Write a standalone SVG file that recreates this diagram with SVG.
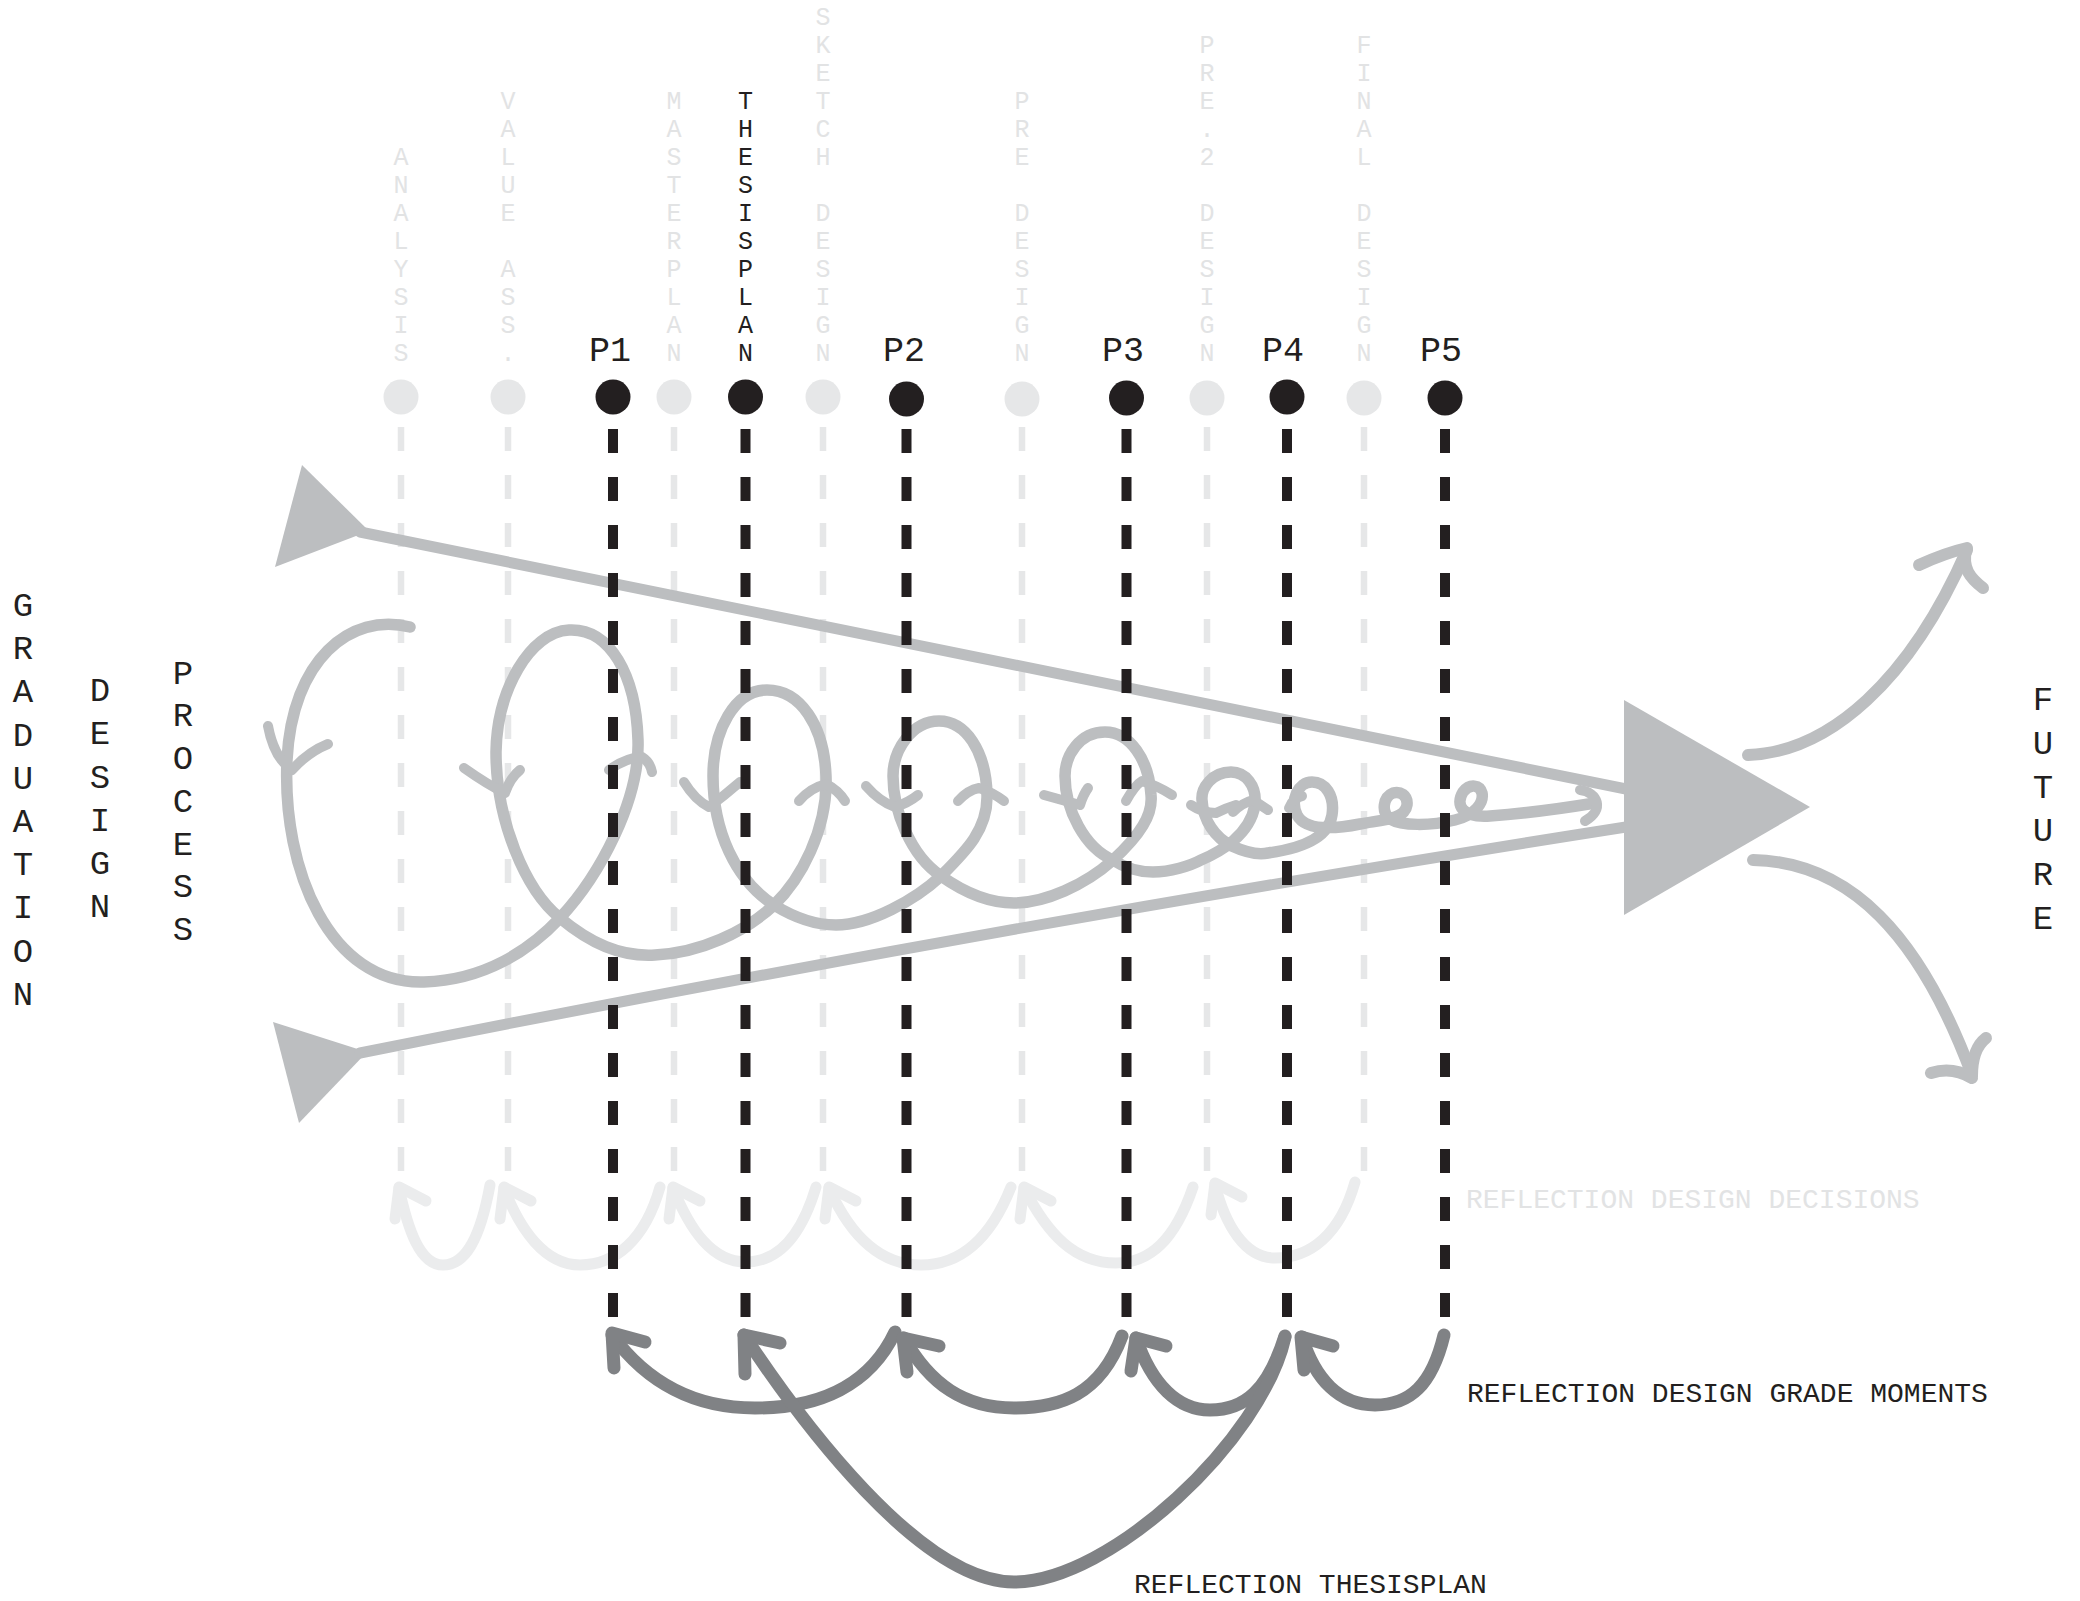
<svg xmlns="http://www.w3.org/2000/svg" width="2080" height="1601" viewBox="0 0 2080 1601">
<style>
.t{font-family:'Liberation Mono','DejaVu Sans Mono',monospace;text-anchor:middle}
.col{font-size:25px}
.lt{fill:#e2e3e4}
.bk{fill:#231f20}
.pl{font-size:35px;fill:#231f20}
.big{font-size:34px;fill:#231f20}
.lab{font-family:'Liberation Mono','DejaVu Sans Mono',monospace;font-size:28px}
.ldash{stroke:#e6e7e8;stroke-width:6.5;stroke-dasharray:24 24;fill:none}
.bdash{stroke:#231f20;stroke-width:10;stroke-dasharray:24 24;fill:none}
.gr{stroke:#bcbec0;fill:none;stroke-linecap:round;stroke-linejoin:round}
.larc{stroke:#ebeced;stroke-width:11;fill:none;stroke-linecap:round;stroke-linejoin:round}
.darc{stroke:#808285;stroke-width:13;fill:none;stroke-linecap:round;stroke-linejoin:round}
.ldot{fill:#e6e7e8}
.bdot{fill:#231f20}
</style>
<rect width="2080" height="1601" fill="#ffffff"/>

<g id="connectors">
  <g id="light-guides">
    <line class="ldash" x1="401" y1="427" x2="401" y2="1172"/>
    <line class="ldash" x1="508" y1="427" x2="508" y2="1172"/>
    <line class="ldash" x1="674" y1="427" x2="674" y2="1172"/>
    <line class="ldash" x1="823" y1="427" x2="823" y2="1172"/>
    <line class="ldash" x1="1022" y1="427" x2="1022" y2="1172"/>
    <line class="ldash" x1="1207" y1="427" x2="1207" y2="1172"/>
    <line class="ldash" x1="1364" y1="427" x2="1364" y2="1172"/>
  </g>
  <g id="reflection-design-decisions">
    <path class="larc" d="M490,1185 C480,1240 465,1265 443,1265 C420,1265 408,1230 399,1188"/>
    <path class="larc" d="M395,1219 L399,1187 L426,1201"/>
    <path class="larc" d="M660,1187 C645,1240 615,1265 580,1265 C545,1265 520,1230 504,1188"/>
    <path class="larc" d="M500,1219 L504,1187 L531,1201"/>
    <path class="larc" d="M816,1187 C800,1240 775,1262 746,1262 C712,1262 690,1230 673,1188"/>
    <path class="larc" d="M669,1219 L673,1187 L700,1201"/>
    <path class="larc" d="M1011,1187 C990,1240 960,1265 921,1265 C880,1265 850,1235 829,1188"/>
    <path class="larc" d="M825,1219 L829,1187 L856,1201"/>
    <path class="larc" d="M1193,1187 C1175,1240 1150,1263 1116,1263 C1075,1263 1048,1235 1024,1188"/>
    <path class="larc" d="M1020,1219 L1024,1187 L1051,1201"/>
    <path class="larc" d="M1355,1182 C1340,1235 1310,1258 1275,1258 C1245,1258 1225,1225 1215,1184"/>
    <path class="larc" d="M1211,1215 L1215,1183 L1242,1197"/>
  </g>
  <g id="process-funnel">
    <polygon points="302,465 369,531 275,567" fill="#bcbec0"/>
    <line class="gr" x1="360" y1="532" x2="1626" y2="789" stroke-width="11"/>
    <polygon points="273,1022 367,1052 299,1123" fill="#bcbec0"/>
    <path class="gr" stroke-width="11" d="M360,1053 Q1000,925 1626,827"/>
    <polygon points="1624,700 1624,915 1810,807" fill="#bcbec0"/>
  </g>
  <g id="spiral">
    <path class="gr" stroke-width="11.5" d="M410,627 C350,612 292,660 287,760 C282,870 330,985 424,982 C485,980 530,950 560,918 C600,875 640,800 638,740 C636,675 610,628 569,630 C530,632 497,690 496,752 C496,820 525,890 560,918 C590,943 620,957 655,955 C700,953 745,932 774,905 C800,880 828,830 826,776 C824,725 800,690 767,690 C735,690 713,730 713,776 C713,830 735,880 774,905 C795,918 815,925 836,925 C870,925 915,900 941,876 C965,852 988,830 987,795 C986,750 965,721 939,721 C912,721 893,750 893,776 C893,810 910,855 941,876 C965,893 990,903 1014,903 C1045,903 1085,885 1113,860 C1140,835 1153,815 1151,795 C1149,760 1130,732 1105,732 C1080,732 1065,755 1065,776 C1065,810 1085,848 1113,860 C1125,868 1140,872 1153,872 C1170,872 1190,866 1201,860 C1220,852 1250,835 1255,805 C1257,785 1245,772 1231,772 C1212,772 1201,788 1202,800 C1203,820 1215,838 1232,846 C1245,852 1258,855 1268,853 C1290,850 1328,842 1332,815 C1335,795 1325,782 1312,782 C1298,782 1290,800 1297,815 C1305,830 1330,830 1360,824 C1380,820 1405,820 1407,805 C1408,795 1400,791 1393,793 C1383,797 1381,812 1390,819 C1402,826 1430,826 1455,820 C1475,815 1484,803 1482,793 C1480,785 1470,783 1463,792 C1455,805 1462,818 1490,816 C1530,813 1565,808 1595,803"/>
    <path class="gr" stroke-width="10" d="M1580,790 C1598,792 1605,810 1585,821"/>
    <g stroke-width="10" class="gr">
      <path d="M268,726 Q274,758 292,770 Q308,752 328,744"/>
      <path d="M464,768 Q488,785 505,793 Q510,778 520,770"/>
      <path d="M609,770 Q625,758 642,757 Q650,762 652,772"/>
      <path d="M684,782 Q695,800 709,807 Q725,795 740,782"/>
      <path d="M799,801 Q810,788 826,784 Q838,790 845,801"/>
      <path d="M866,786 Q880,802 895,807 Q908,803 918,795"/>
      <path d="M958,801 Q968,790 979,788 Q992,792 1004,801"/>
      <path d="M1044,795 Q1062,800 1080,805 Q1083,795 1088,788"/>
      <path d="M1126,801 Q1135,785 1142,781 Q1158,786 1172,795"/>
      <path d="M1191,805 Q1203,813 1216,813 Q1226,808 1236,805"/>
      <path d="M1233,812 Q1242,803 1253,800 Q1262,806 1268,810"/>
      <path d="M1289,808 Q1293,798 1302,796"/>
    </g>
  </g>
  <g id="future-arrows">
    <path class="gr" stroke-width="12" d="M1748,755 C1830,752 1910,680 1967,550"/>
    <path class="gr" stroke-width="12" d="M1919,565 Q1945,553 1967,548 M1966,550 C1962,568 1970,578 1983,588"/>
    <path class="gr" stroke-width="12" d="M1753,860 C1850,862 1920,935 1972,1075"/>
    <path class="gr" stroke-width="12" d="M1931,1073 Q1952,1066 1972,1078 M1972,1076 C1972,1058 1977,1045 1986,1038"/>
  </g>
  <g id="milestone-guides">
    <line class="bdash" x1="613" y1="429" x2="613" y2="1318"/>
    <line class="bdash" x1="745.5" y1="429" x2="745.5" y2="1318"/>
    <line class="bdash" x1="906.5" y1="429" x2="906.5" y2="1318"/>
    <line class="bdash" x1="1126.5" y1="429" x2="1126.5" y2="1318"/>
    <line class="bdash" x1="1287" y1="429" x2="1287" y2="1318"/>
    <line class="bdash" x1="1445" y1="429" x2="1445" y2="1318"/>
  </g>
  <g id="reflection-grade-moments">
    <path class="darc" d="M895,1332 C870,1385 820,1408 755,1408 C690,1408 645,1380 612,1335"/>
    <path class="darc" d="M614,1368 L612,1333 L645,1342"/>
    <path class="darc" d="M1122,1336 C1100,1395 1060,1408 1014,1408 C965,1408 930,1385 904,1338"/>
    <path class="darc" d="M907,1372 L903,1338 L939,1346"/>
    <path class="darc" d="M1285,1336 C1268,1390 1245,1410 1210,1410 C1178,1410 1152,1385 1136,1338"/>
    <path class="darc" d="M1131,1371 L1136,1338 L1166,1346"/>
    <path class="darc" d="M1444,1335 C1432,1385 1410,1405 1375,1405 C1340,1405 1315,1380 1302,1337"/>
    <path class="darc" d="M1304,1370 L1301,1337 L1333,1346"/>
  </g>
  <g id="reflection-thesisplan">
    <path class="darc" d="M1285,1337 C1262,1440 1110,1582 1014,1582 C920,1582 800,1420 744,1335"/>
    <path class="darc" d="M745,1374 L744,1335 L780,1343"/>
  </g>
</g>

<g id="col-analysis">
  <circle class="ldot" cx="401" cy="397" r="17.5"/>
  <text class="t col lt"><tspan x="401" y="165">A</tspan><tspan x="401" y="193">N</tspan><tspan x="401" y="221">A</tspan><tspan x="401" y="249">L</tspan><tspan x="401" y="277">Y</tspan><tspan x="401" y="305">S</tspan><tspan x="401" y="333">I</tspan><tspan x="401" y="361">S</tspan></text>
</g>
<g id="col-value">
  <circle class="ldot" cx="508" cy="397" r="17.5"/>
  <text class="t col lt"><tspan x="508" y="109">V</tspan><tspan x="508" y="137">A</tspan><tspan x="508" y="165">L</tspan><tspan x="508" y="193">U</tspan><tspan x="508" y="221">E</tspan><tspan x="508" y="277">A</tspan><tspan x="508" y="305">S</tspan><tspan x="508" y="333">S</tspan><tspan x="508" y="361">.</tspan></text>
</g>
<g id="p1">
  <circle class="bdot" cx="613" cy="397" r="17.5"/>
  <text class="t pl" x="610" y="361">P1</text>
</g>
<g id="col-masterplan">
  <circle class="ldot" cx="674" cy="397" r="17.5"/>
  <text class="t col lt"><tspan x="674" y="109">M</tspan><tspan x="674" y="137">A</tspan><tspan x="674" y="165">S</tspan><tspan x="674" y="193">T</tspan><tspan x="674" y="221">E</tspan><tspan x="674" y="249">R</tspan><tspan x="674" y="277">P</tspan><tspan x="674" y="305">L</tspan><tspan x="674" y="333">A</tspan><tspan x="674" y="361">N</tspan></text>
</g>
<g id="col-thesisplan">
  <circle class="bdot" cx="745.5" cy="397" r="17.5"/>
  <text class="t col bk"><tspan x="745.5" y="109">T</tspan><tspan x="745.5" y="137">H</tspan><tspan x="745.5" y="165">E</tspan><tspan x="745.5" y="193">S</tspan><tspan x="745.5" y="221">I</tspan><tspan x="745.5" y="249">S</tspan><tspan x="745.5" y="277">P</tspan><tspan x="745.5" y="305">L</tspan><tspan x="745.5" y="333">A</tspan><tspan x="745.5" y="361">N</tspan></text>
</g>
<g id="col-sketch">
  <circle class="ldot" cx="823" cy="397" r="17.5"/>
  <text class="t col lt"><tspan x="823" y="25">S</tspan><tspan x="823" y="53">K</tspan><tspan x="823" y="81">E</tspan><tspan x="823" y="109">T</tspan><tspan x="823" y="137">C</tspan><tspan x="823" y="165">H</tspan><tspan x="823" y="221">D</tspan><tspan x="823" y="249">E</tspan><tspan x="823" y="277">S</tspan><tspan x="823" y="305">I</tspan><tspan x="823" y="333">G</tspan><tspan x="823" y="361">N</tspan></text>
</g>
<g id="p2">
  <circle class="bdot" cx="906.5" cy="399" r="17.5"/>
  <text class="t pl" x="904" y="361">P2</text>
</g>
<g id="col-pre">
  <circle class="ldot" cx="1022" cy="399" r="17.5"/>
  <text class="t col lt"><tspan x="1022" y="109">P</tspan><tspan x="1022" y="137">R</tspan><tspan x="1022" y="165">E</tspan><tspan x="1022" y="221">D</tspan><tspan x="1022" y="249">E</tspan><tspan x="1022" y="277">S</tspan><tspan x="1022" y="305">I</tspan><tspan x="1022" y="333">G</tspan><tspan x="1022" y="361">N</tspan></text>
</g>
<g id="p3">
  <circle class="bdot" cx="1126.5" cy="398" r="17.5"/>
  <text class="t pl" x="1123" y="361">P3</text>
</g>
<g id="col-pre2">
  <circle class="ldot" cx="1207" cy="398" r="17.5"/>
  <text class="t col lt"><tspan x="1207" y="53">P</tspan><tspan x="1207" y="81">R</tspan><tspan x="1207" y="109">E</tspan><tspan x="1207" y="137">.</tspan><tspan x="1207" y="165">2</tspan><tspan x="1207" y="221">D</tspan><tspan x="1207" y="249">E</tspan><tspan x="1207" y="277">S</tspan><tspan x="1207" y="305">I</tspan><tspan x="1207" y="333">G</tspan><tspan x="1207" y="361">N</tspan></text>
</g>
<g id="p4">
  <circle class="bdot" cx="1287" cy="397" r="17.5"/>
  <text class="t pl" x="1283" y="361">P4</text>
</g>
<g id="col-final">
  <circle class="ldot" cx="1364" cy="398" r="17.5"/>
  <text class="t col lt"><tspan x="1364" y="53">F</tspan><tspan x="1364" y="81">I</tspan><tspan x="1364" y="109">N</tspan><tspan x="1364" y="137">A</tspan><tspan x="1364" y="165">L</tspan><tspan x="1364" y="221">D</tspan><tspan x="1364" y="249">E</tspan><tspan x="1364" y="277">S</tspan><tspan x="1364" y="305">I</tspan><tspan x="1364" y="333">G</tspan><tspan x="1364" y="361">N</tspan></text>
</g>
<g id="p5">
  <circle class="bdot" cx="1445" cy="398" r="17.5"/>
  <text class="t pl" x="1441" y="361">P5</text>
</g>

<g id="title">
  <text class="t big"><tspan x="23" y="616">G</tspan><tspan x="23" y="659">R</tspan><tspan x="23" y="702">A</tspan><tspan x="23" y="746">D</tspan><tspan x="23" y="789">U</tspan><tspan x="23" y="832">A</tspan><tspan x="23" y="875">T</tspan><tspan x="23" y="918">I</tspan><tspan x="23" y="962">O</tspan><tspan x="23" y="1005">N</tspan></text>
  <text class="t big"><tspan x="100" y="701">D</tspan><tspan x="100" y="744">E</tspan><tspan x="100" y="788">S</tspan><tspan x="100" y="831">I</tspan><tspan x="100" y="874">G</tspan><tspan x="100" y="917">N</tspan></text>
  <text class="t big"><tspan x="183" y="684">P</tspan><tspan x="183" y="726">R</tspan><tspan x="183" y="769">O</tspan><tspan x="183" y="812">C</tspan><tspan x="183" y="855">E</tspan><tspan x="183" y="897">S</tspan><tspan x="183" y="940">S</tspan></text>
</g>
<g id="future">
  <text class="t big"><tspan x="2043" y="710">F</tspan><tspan x="2043" y="754">U</tspan><tspan x="2043" y="798">T</tspan><tspan x="2043" y="841">U</tspan><tspan x="2043" y="885">R</tspan><tspan x="2043" y="929">E</tspan></text>
</g>
<g id="labels">
  <text class="lab" x="1466" y="1208" fill="#e2e3e4">REFLECTION DESIGN DECISIONS</text>
  <text class="lab" x="1467" y="1402" fill="#231f20">REFLECTION DESIGN GRADE MOMENTS</text>
  <text class="lab" x="1134" y="1593" fill="#231f20">REFLECTION THESISPLAN</text>
</g>
</svg>
